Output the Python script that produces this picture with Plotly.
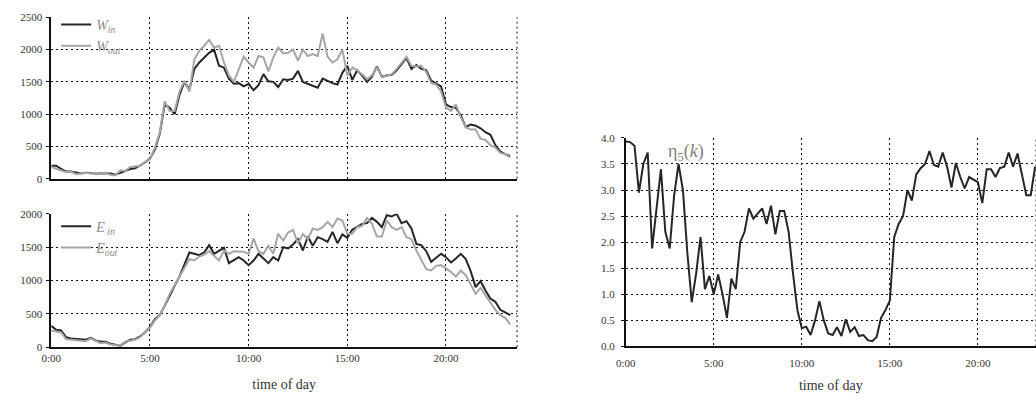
import plotly.graph_objects as go

# time axis (hours), 15-minute samples
hours = [i * 0.25 for i in range(94)]

w_in = [200, 200, 150, 110, 110, 90, 80, 90, 80, 80, 80, 80, 80, 60, 90, 120,
        150, 160, 200, 250, 310, 450, 700, 1150, 1100, 1000, 1300, 1500, 1380, 1700,
        1800, 1870, 1950, 2000, 1750, 1720, 1550, 1470, 1480, 1430, 1470, 1370, 1450, 1620,
        1510, 1500, 1420, 1540, 1530, 1550, 1670, 1500, 1470, 1430, 1410, 1550, 1510, 1480,
        1460, 1640, 1750, 1530, 1680, 1600, 1500, 1580, 1740, 1580, 1600, 1610, 1680, 1780,
        1870, 1700, 1760, 1700, 1680, 1520, 1480, 1430, 1150, 1110, 1100, 980, 800, 840,
        820, 780, 720, 680, 520, 420, 380, 350]
w_out = [180, 150, 120, 100, 110, 70, 80, 90, 80, 90, 70, 80, 60, 50, 130, 120,
         180, 190, 200, 260, 300, 480, 720, 1200, 1050, 1050, 1350, 1520, 1350, 1850,
         1980, 2060, 2150, 2030, 2060, 1800, 1600, 1500, 1700, 1890, 1800, 1720, 1900, 1880,
         1660, 1880, 2030, 1940, 1950, 2000, 1830, 2000, 1900, 1930, 1900, 2250, 1890, 1800,
         1850, 2000, 1600, 1720, 1680, 1620, 1540, 1600, 1720, 1580, 1590, 1620, 1700, 1800,
         1890, 1750, 1740, 1750, 1650, 1480, 1460, 1350, 1100, 1050, 1150, 950, 800, 760,
         760, 620, 600, 520, 480, 400, 380, 330]
e_in = [320, 260, 250, 150, 130, 120, 110, 110, 140, 100, 80, 80, 50, 40, 20, 70,
        110, 120, 160, 220, 300, 420, 480, 620, 780, 920, 1060, 1250, 1420, 1400,
        1380, 1420, 1530, 1400, 1450, 1490, 1260, 1300, 1350, 1300, 1230, 1300, 1400, 1330,
        1260, 1350, 1300, 1500, 1480, 1540, 1620, 1450, 1660, 1520, 1650, 1620, 1580, 1730,
        1560, 1690, 1640, 1760, 1800, 1850, 1860, 1940, 1880, 1800, 1980, 1960, 2000, 1860,
        1890, 1780, 1550, 1530, 1440, 1280, 1340, 1400, 1350, 1270, 1330, 1400, 1320, 1140,
        900, 990, 850, 730, 680, 560, 520, 480]
e_out = [250, 240, 220, 120, 110, 100, 90, 90, 130, 90, 60, 70, 40, 30, 30, 80,
         100, 110, 150, 220, 290, 400, 480, 620, 800, 930, 1060, 1200, 1320, 1300,
         1360, 1390, 1440, 1370, 1300, 1450, 1400, 1440, 1440, 1430, 1400, 1630, 1440, 1400,
         1520, 1400, 1700, 1600, 1720, 1760, 1560, 1700, 1620, 1780, 1760, 1800, 1880, 1800,
         1930, 1900, 1700, 1700, 1800, 1820, 1940, 1850, 1660, 1660, 1900, 1800, 1760, 1800,
         1650, 1620, 1450, 1320, 1170, 1150, 1220, 1230, 1180, 1130, 1060, 1150, 1080, 950,
         800, 890, 780, 650, 560, 480, 440, 340]
eta5 = [3.93, 3.92, 3.85, 2.95, 3.5, 3.72, 1.88, 2.7, 3.4, 2.2, 1.88, 2.9, 3.5, 3.0, 1.8, 0.85,
        1.4, 2.1, 1.1, 1.35, 1.0, 1.38, 1.0, 0.55, 1.3, 1.1, 2.0, 2.2, 2.65, 2.45,
        2.55, 2.65, 2.35, 2.7, 2.15, 2.6, 2.6, 2.2, 1.4, 0.7, 0.35, 0.38, 0.22, 0.5,
        0.87, 0.5, 0.25, 0.22, 0.37, 0.2, 0.52, 0.28, 0.37, 0.2, 0.22, 0.12, 0.1, 0.18,
        0.55, 0.7, 0.88, 2.1, 2.35, 2.5, 3.0, 2.8, 3.3, 3.42, 3.5, 3.75, 3.48, 3.45,
        3.72, 3.45, 3.05, 3.52, 3.25, 3.03, 3.25, 3.2, 3.15, 2.75, 3.4, 3.4, 3.25, 3.42,
        3.45, 3.72, 3.45, 3.7, 3.3, 2.9, 2.9, 3.45]

tick_vals = [0, 5, 10, 15, 20]
tick_text = ["0:00", "5:00", "10:00", "15:00", "20:00"]

DARK = "#262626"
GRAY = "#a6a6a6"
SERIF = "Liberation Serif"
DOTS = "2px,3px"

fig = go.Figure()
fig.add_trace(go.Scatter(x=hours, y=w_in, mode="lines", name="<i>W</i><sub><i>in</i></sub>",
                         line=dict(color=DARK, width=2), xaxis="x", yaxis="y", legend="legend"))
fig.add_trace(go.Scatter(x=hours, y=w_out, mode="lines", name="<i>W</i><sub><i>out</i></sub>",
                         line=dict(color=GRAY, width=2), xaxis="x", yaxis="y", legend="legend"))
fig.add_trace(go.Scatter(x=hours, y=e_in, mode="lines", name="<i>E</i><sub><i> in</i></sub>",
                         line=dict(color=DARK, width=2), xaxis="x2", yaxis="y2", legend="legend2"))
fig.add_trace(go.Scatter(x=hours, y=e_out, mode="lines", name="<i>E</i><sub><i>out</i></sub>",
                         line=dict(color=GRAY, width=2), xaxis="x2", yaxis="y2", legend="legend2"))
fig.add_trace(go.Scatter(x=hours, y=eta5, mode="lines", name="eta5",
                         line=dict(color=DARK, width=2), xaxis="x3", yaxis="y3", showlegend=False))

grid = dict(showgrid=True, gridcolor="#111", griddash=DOTS, gridwidth=1, zeroline=False,
            showline=True, linecolor="#111", linewidth=1.5,
            tickfont=dict(family=SERIF, size=11, color="#333"))
title_font = dict(family=SERIF, size=14, color="#333")

xl = [0.0402, 0.4942]
fig.update_layout(
    width=1036, height=400, margin=dict(l=0, r=0, t=0, b=0),
    paper_bgcolor="white", plot_bgcolor="white", showlegend=True,
    xaxis=dict(domain=xl, range=[0, 23.6], tickvals=tick_vals, showticklabels=False,
               anchor="y", **grid),
    yaxis=dict(domain=[0.555, 0.9708], range=[0, 2500], tickvals=[0, 500, 1000, 1500, 2000, 2500],
               anchor="x", ticks="outside", ticklen=3, tickcolor="#111", ticklabelstandoff=2, **grid),
    xaxis2=dict(domain=xl, range=[0, 23.6], tickvals=tick_vals, ticktext=tick_text,
                anchor="y2", title=dict(text="time of day", font=title_font, standoff=16),
                **grid),
    yaxis2=dict(domain=[0.1208, 0.4643], range=[0, 2000], tickvals=[0, 500, 1000, 1500, 2000],
                anchor="x2", ticks="outside", ticklen=3, tickcolor="#111", ticklabelstandoff=2, **grid),
    xaxis3=dict(domain=[0.6001, 1.0], range=[0, 23.3], tickvals=tick_vals, ticktext=tick_text,
                anchor="y3", ticklabelstandoff=6,
                title=dict(text="time of day", font=title_font, standoff=12),
                **grid),
    yaxis3=dict(domain=[0.1225, 0.66], range=[0, 4], tickvals=[0, 0.5, 1, 1.5, 2, 2.5, 3, 3.5, 4],
                tickformat=".1f", anchor="x3", ticks="outside", ticklen=3, tickcolor="#111",
                ticklabelstandoff=4, **grid),
    legend=dict(x=0.045, y=0.9925, xanchor="left", yanchor="top", bgcolor="rgba(0,0,0,0)",
                font=dict(family=SERIF, size=14, color="#8c8c8c"), itemwidth=30, tracegroupgap=0),
    legend2=dict(x=0.045, y=0.4725, xanchor="left", yanchor="top", bgcolor="rgba(0,0,0,0)",
                 font=dict(family=SERIF, size=14, color="#8c8c8c"), itemwidth=30, tracegroupgap=0),
)

# dotted right borders of each panel
for xr, yr in [("x", "y"), ("x2", "y2"), ("x3", "y3")]:
    fig.add_shape(type="line", xref=f"{xr} domain", yref=f"{yr} domain", x0=1, x1=1, y0=0, y1=1,
                  line=dict(color="#111", width=1, dash=DOTS))

fig.add_annotation(text="η<sub>5</sub>(<i>k</i>)", xref="x3", yref="y3", x=3.45, y=3.72,
                   xanchor="center", showarrow=False, bgcolor="rgba(255,255,255,0)",
                   font=dict(family=SERIF, size=18, color="#808080"))

fig.write_html("out.html")
